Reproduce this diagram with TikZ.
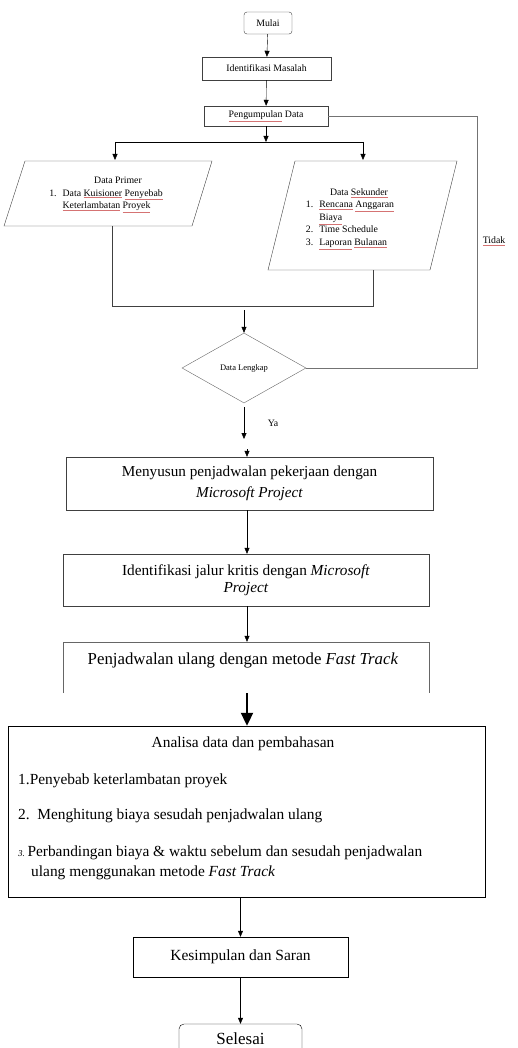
\documentclass[tikz,border=0pt]{standalone}
\usepackage{fontspec}
\setmainfont{Liberation Serif}
\usetikzlibrary{shapes.geometric,arrows.meta}

% red spell-check underline
\newcommand\spellerr[1]{{\color{red!70!black!55}\underline{{\color{black}#1}}}}

\begin{document}
\begin{tikzpicture}[x=1pt,y=-1pt,>={Stealth[length=6pt,width=5pt,inset=0pt]},
  box/.style={draw=black!75,inner sep=0pt,align=center},
  lowbox/.style={draw=black,inner sep=0pt,align=center},
  txt/.style={inner sep=0pt},
  small/.style={font=\fontsize{9.8}{12.3}\selectfont},
  tiny/.style={font=\fontsize{8.5}{10}\selectfont},
  big/.style={font=\fontsize{15.2}{21}\selectfont},
  pline/.style={draw=black!75},
  loopline/.style={draw=black!55},
  bigarrow/.style={line width=2pt,-{Stealth[length=13pt,width=12pt,inset=0pt]}}]
\useasboundingbox (0,0) rectangle (517,1048);

% upper part
\node[box,small,rounded corners=3pt,minimum width=48,minimum height=22] (mulai) at (268,23) {Mulai};
\node[box,small,minimum width=129,minimum height=23] (ident) at (266.5,68.5) {Identifikasi Masalah};
\node[box,small,minimum width=124,minimum height=20] (kumpul) at (266,116) {\spellerr{Pengumpulan} Data};
\draw[->] (mulai) -- (ident);
\draw[->] (ident) -- (kumpul);

% split to the two data inputs
\coordinate (bagi) at (266,142);
\coordinate (bagiL) at (115,142);
\coordinate (bagiR) at (363,142);
\draw[->] (kumpul) -- (bagi);
\draw (bagiL) -- (bagiR);
\draw[pline] (25,161) -- (212,161) -- (192,226) -- (4,226) -- cycle;
\draw[pline] (295,161) -- (457,161) -- (430,270) -- (268,270) -- cycle;
\coordinate (primtop) at (115,160);
\coordinate (sektop) at (363,160);
\draw[->] (bagiL) -- (primtop);
\draw[->] (bagiR) -- (sektop);
\node[txt,small] (primer) at (106,194) {%
  \begin{tabular}{@{}l@{\hspace{6pt}}l@{}}
  \multicolumn{2}{c}{\hspace{24pt}Data Primer}\\
  1. & Data \spellerr{Kuisioner} \spellerr{Penyebab}\\
     & \spellerr{Keterlambatan} \spellerr{Proyek}
  \end{tabular}};
\node[txt,small] (sekunder) at (350,218) {%
  \begin{tabular}{@{}l@{\hspace{6pt}}l@{}}
  \multicolumn{2}{c}{\hspace{18pt}Data \spellerr{Sekunder}}\\
  1. & \spellerr{Rencana} \spellerr{Anggaran}\\
     & \spellerr{Biaya}\\
  2. & Time Schedule\\
  3. & \spellerr{Laporan} \spellerr{Bulanan}
  \end{tabular}};

% join and decision
\coordinate (primbot) at (112,226);
\coordinate (sekbot) at (373,270);
\coordinate (gabung) at (244,306);
\coordinate (gabung2) at (244,310);
\draw[pline] (primbot) |- (sekbot |- gabung) -- (sekbot);
\node[draw=black!60,diamond,tiny,inner sep=0pt,minimum width=124,minimum height=70] (lengkap) at (244,368) {Data Lengkap};
\draw[->] (gabung2) -- (lengkap.north);
\coordinate (balik) at (477,116);
\draw[loopline] (kumpul.east) -- (balik) |- (lengkap.east);
\node[txt,small] (tidak) at (494,241) {\spellerr{Tidak}};
\coordinate (ya1) at (244,407);
\coordinate (ya2) at (244,439);
\draw[->] (ya1) -- (ya2);
\node[txt,small] (ya) at (273,423) {Ya};

% scheduling steps
\node[box,big,minimum width=367,minimum height=53] (susun) at (249.5,483.5)
  {Menyusun penjadwalan pekerjaan dengan\\ \textit{Microsoft Project}};
\coordinate (kecil) at (247,449);
\draw[->] (kecil) -- (kecil |- susun.north);
\node[box,minimum width=366,minimum height=52,font=\fontsize{15.3}{17}\selectfont] (kritis) at (246,580)
  {Identifikasi jalur kritis dengan \textit{Microsoft}\\ \textit{Project}};
\draw[->] (susun.south -| 247,0) -- (kritis.north -| 247,0);
\node[minimum width=366,minimum height=51,inner sep=0pt] (fast) at (246,667.5) {};
\draw[draw=black!60] (fast.south west) -- (fast.north west) -- (fast.north east) -- (fast.south east);
\node[txt,font=\fontsize{16.8}{18}\selectfont] (fasttxt) at (243,660) {Penjadwalan ulang dengan metode \textit{Fast Track}};
\draw[->] (kritis.south -| 247,0) -- (fast.north -| 247,0);

% analysis
\node[lowbox,minimum width=477,minimum height=171] (analisa) at (246.5,811.5) {};
\draw[bigarrow] (fast.south -| 247,0) -- (analisa.north -| 247,0);
\begin{scope}[every node/.append style={font=\fontsize{15.4}{20}\selectfont}]
\node[txt] (ana0) at (243,744) {Analisa data dan pembahasan};
\node[txt,anchor=west] (ana1) at (18,781) {1.Penyebab keterlambatan proyek};
\node[txt,anchor=west] (ana2) at (18,816) {2.\ \ Menghitung biaya sesudah penjadwalan ulang};
\node[txt,anchor=west] (ana3) at (18,853) {\textit{\small 3.}\,Perbandingan biaya \& waktu sebelum dan sesudah penjadwalan};
\node[txt,anchor=west] (ana3b) at (31,873) {ulang menggunakan metode \textit{Fast Track}};
\end{scope}

% end
\node[lowbox,minimum width=215,minimum height=40,font=\fontsize{15.5}{20}\selectfont] (kesim) at (240.5,957) {Kesimpulan dan Saran};
\node[lowbox,rounded corners=5pt,minimum width=123,minimum height=36] (selesai) at (240.5,1042) {};
\node[txt,anchor=base,font=\fontsize{17}{20}\selectfont] (selesaitxt) at (240.5,1044) {Selesai};
\draw[->] (kesim.north |- analisa.south) -- (kesim.north);
\draw[->] (kesim) -- (selesai);
\end{tikzpicture}
\end{document}
